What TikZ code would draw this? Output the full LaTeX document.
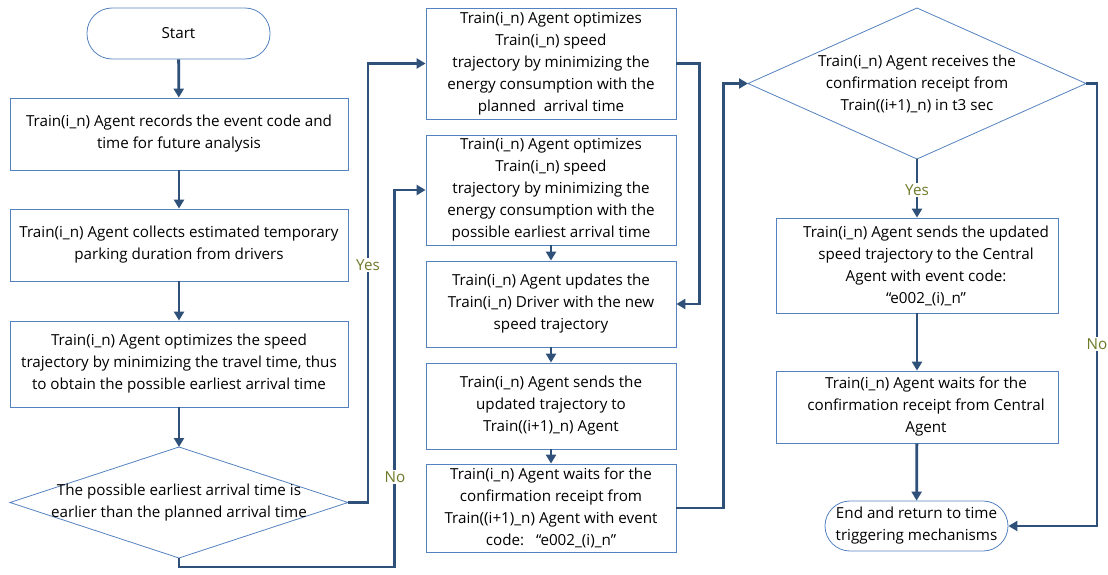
\documentclass[tikz,border=0pt]{standalone}
\usepackage{fontspec}
\setmainfont{Open Sans}
\usetikzlibrary{arrows.meta}
\definecolor{boxc}{RGB}{84,130,190}
\definecolor{linec}{RGB}{47,80,120}
\definecolor{labc}{RGB}{110,122,40}
\tikzset{
  txt/.style={align=center, font=\fontsize{15.2}{22}\selectfont, inner sep=0pt},
  box/.style={txt, draw=boxc, line width=0.8pt},
  term/.style={box, rounded corners=25pt},
  conn/.style={draw=linec, line width=2.8pt, -{Triangle[length=9pt,width=10pt]}},
  yn/.style={font=\fontsize{15.2}{18}\selectfont, text=labc, fill=white, inner sep=1.5pt},
}
\begin{document}
\begin{tikzpicture}[x=1pt,y=-1pt]
\useasboundingbox (0,0) rectangle (1108,575);

% ---- left column ----
\node[term, minimum width=183, minimum height=51] (start) at (178.5,33.5) {Start};
\node[box, minimum width=338, minimum height=72] (b1) at (179,134)
  {Train(i\_n) Agent records the event code and\\ time for future analysis};
\node[box, minimum width=338, minimum height=72] (b2) at (179,245)
  {Train(i\_n) Agent collects estimated temporary\\ parking duration from drivers};
\node[box, minimum width=338, minimum height=86] (b3) at (179,364)
  {Train(i\_n) Agent optimizes the speed\\ trajectory by minimizing the travel time, thus\\ to obtain the possible earliest arrival time};
% decision: earliest vs planned arrival
\coordinate (d1l) at (10,502.5);
\coordinate (d1r) at (348,502.5);
\coordinate (d1t) at (179,447);
\coordinate (d1b) at (179,558);
\draw[boxc, line width=0.8pt] (d1l) -- (d1t) -- (d1r) -- (d1b) -- cycle;
\node[txt] (d1) at (179,502.5)
  {The possible earliest arrival time is\\ earlier than the planned arrival time};

% ---- middle column ----
\node[box, minimum width=250, minimum height=111] (m1) at (551,63.5)
  {Train(i\_n) Agent optimizes\\ Train(i\_n) speed\\ trajectory by minimizing the\\ energy consumption with the\\ planned~~arrival time};
\node[box, minimum width=250, minimum height=110] (m2) at (551,190)
  {Train(i\_n) Agent optimizes\\ Train(i\_n) speed\\ trajectory by minimizing the\\ energy consumption with the\\ possible earliest arrival time};
\node[box, minimum width=250, minimum height=86] (m3) at (551,304)
  {Train(i\_n) Agent updates the\\ Train(i\_n) Driver with the new\\ speed trajectory};
\node[box, minimum width=250, minimum height=86] (m4) at (551,406)
  {Train(i\_n) Agent sends the\\ updated trajectory to\\ Train((i+1)\_n) Agent};
\node[box, minimum width=250, minimum height=88] (m5) at (551,508)
  {Train(i\_n) Agent waits for the\\ confirmation receipt from\\ Train((i+1)\_n) Agent with event\\ code:~~~“e002\_(i)\_n”};

% ---- right column ----
\coordinate (d2l) at (748,83.5);
\coordinate (d2r) at (1086,83.5);
\coordinate (d2t) at (917,8);
\coordinate (d2b) at (917,159);
\draw[boxc, line width=0.8pt] (d2l) -- (d2t) -- (d2r) -- (d2b) -- cycle;
\node[txt] (d2) at (917,84)
  {Train(i\_n) Agent receives the\\ confirmation receipt from\\ Train((i+1)\_n) in t3 sec};
\node[box, minimum width=282, minimum height=95] (r1) at (917,265.5) {};
\node[txt] (r1t) at (926,266)
  {Train(i\_n) Agent sends the updated\\ speed trajectory to the Central\\ Agent with event code:\\ “e002\_(i)\_n”};
\node[box, minimum width=282, minimum height=72] (r2) at (917,407) {};
\node[txt] (r2t) at (926,407)
  {Train(i\_n) Agent waits for the\\ confirmation receipt from Central\\ Agent};
\node[term, minimum width=183, minimum height=50] (end) at (916.5,526)
  {End and return to time\\ triggering mechanisms};

% ---- connectors ----
\draw[conn] (start) -- (b1);
\draw[conn] (b1) -- (b2);
\draw[conn] (b2) -- (b3);
\draw[conn] (b3.south) -- (d1t);
\draw[conn] (d1r) -- ++(20,0) |- (m1.west);
\draw[conn] (d1b) -- ++(0,9) -| ([xshift=-31pt]m2.west) -- (m2.west);
\draw[conn] (m2) -- (m3);
\draw[conn] (m3) -- (m4);
\draw[conn] (m4) -- (m5);
\draw[conn] (m1.east) -- ++(23,0) |- (m3.east);
\draw[conn] (m5.east) -- ++(47,0) |- (d2l);
\draw[conn] (d2b) -- (r1.north);
\draw[conn] (r1) -- (r2);
\draw[conn] (r2) -- (end);
\draw[conn] (d2r) -- ++(11,0) |- (end.east);

% ---- branch labels ----
\node[yn] (yes1) at (368,265) {Yes};
\node[yn] (no1) at (395,477) {No};
\node[yn] (yes2) at (917,190) {Yes};
\node[yn] (no2) at (1097,344) {No};
\end{tikzpicture}
\end{document}
